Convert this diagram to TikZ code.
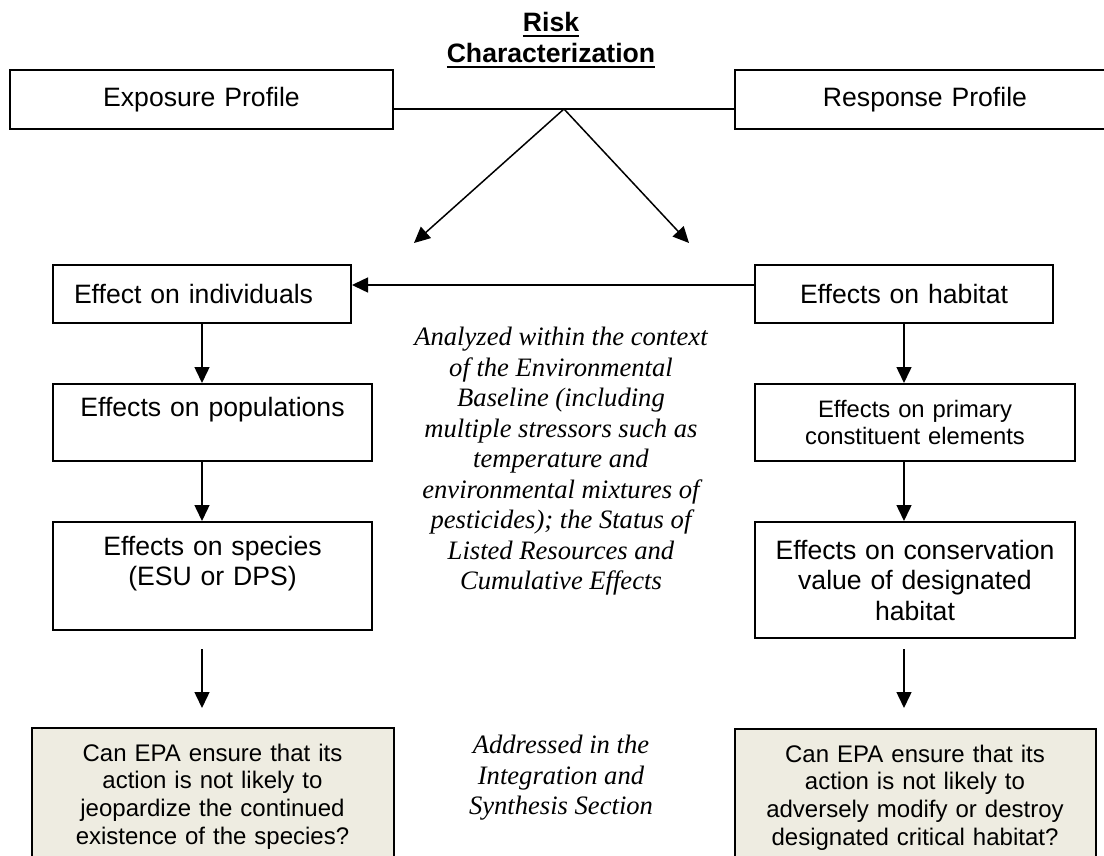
\documentclass[tikz,border=0pt]{standalone}
\usepackage{fontspec}
\setmainfont{Liberation Sans}
\newfontfamily\notefont{Liberation Serif}
\usepackage{xcolor}
\definecolor{questiongray}{HTML}{EEECE1}
\usepackage{tikz}
\usetikzlibrary{arrows.meta, positioning, calc}
\newcommand{\mainsize}{\fontsize{13.3}{15.25}\selectfont}
\newcommand{\smallbox}{\fontsize{11.9}{13.5}\selectfont}
\newcommand{\questionsize}{\fontsize{12}{13.85}\selectfont}
\newcommand{\titleline}[1]{\leavevmode\vtop{\hbox{#1}\kern1.5pt\hrule height 1pt}}

\begin{document}
\begin{tikzpicture}[node distance=29.5pt,
        box/.style={rectangle, draw=black, line width=1pt, inner ysep=0pt, inner xsep=3pt, align=center, font=\mainsize},
        profile/.style={box, minimum height=29.5pt},
        effect/.style={box, minimum height=29pt},
        topbox/.style={box, text height=16pt},
        question/.style={box, fill=questiongray, font=\questionsize, text height=16.5pt, text depth=70pt},
        note/.style={align=center, inner sep=0pt, font=\notefont\itshape\mainsize},
        line/.style={draw=black, line width=0.75pt},
        arrow/.style={line, -{Triangle[length=8pt, width=7.5pt]}}]

        \useasboundingbox (0,0) rectangle (552pt,-428pt);
        \clip (0,0) rectangle (552pt,-428pt);

        \node [font=\bfseries\mainsize, align=center, inner sep=0pt] (title) at (275.5pt,-20pt) {\titleline{Risk}\\\titleline{Characterization}};

        \node [profile, text width=185.5pt, anchor=north west] (expo) at (4.5pt,-34.5pt) {Exposure Profile};
        \node [profile, text width=184pt, right=170pt of expo] (resp) {Response Profile};

        \node [effect, text width=128pt, inner xsep=10.5pt, align=left, anchor=north west] (indiv) at (26pt,-132pt) {Effect on individuals};
        \node [effect, text width=143pt, right=201pt of indiv] (habitat) {Effects on habitat};

        \node [topbox, text width=153.5pt, text depth=22.5pt, below=of indiv.south west, anchor=north west] (popul) {Effects on populations};
        \node [topbox, text width=153.5pt, text height=16.5pt, text depth=37.5pt, below=of popul.south west, anchor=north west] (species) {Effects on species\\(ESU or DPS)};
        \node [question, text width=175pt, below=48pt of species] (jeopardy) {Can EPA ensure that its\\action is not likely to\\jeopardize the continued\\existence of the species?};

        \node [box, font=\smallbox, text width=154pt, minimum height=38.5pt, below=of habitat.south west, anchor=north west] (elements) {Effects on primary\\constituent elements};
        \node [box, text width=154pt, minimum height=58pt, below=of elements.south west, anchor=north west] (conserv) {Effects on conservation\\value of designated\\habitat};
        \node [question, text width=174.5pt, below=44.5pt of conserv] (modify) {Can EPA ensure that its\\action is not likely to\\adversely modify or destroy\\designated critical habitat?};

        \node [note] (context) at (280.5pt,-230.75pt) {Analyzed within the context\\of the Environmental\\Baseline (including\\multiple stressors such as\\temperature and\\environmental mixtures of\\pesticides); the Status of\\Listed Resources and\\Cumulative Effects};
        \node [note] (synthesis) at (280.5pt,-389pt) {Addressed in the\\Integration and\\Synthesis Section};

        \coordinate (tipl) at (207pt,-121.5pt);
        \coordinate (tipr) at (344.5pt,-121.5pt);

        \path [line] ([yshift=-4.75pt]expo.east) -- coordinate[midway] (apex) ([yshift=-4.75pt]resp.west);
        \path [arrow] (apex) -- (tipl);
        \path [arrow] (apex) -- (tipr);

        \path [arrow] ([yshift=4.5pt]habitat.west) -- ([yshift=4.5pt]indiv.east);

        \path [arrow] (indiv.south) -- (indiv.south |- popul.north);
        \path [arrow] (indiv.south |- popul.south) -- (indiv.south |- species.north);
        \path [arrow, shorten <=9pt, shorten >=9.5pt] (indiv.south |- species.south) -- (indiv.south |- jeopardy.north);

        \path [arrow] (habitat.south) -- (habitat.south |- elements.north);
        \path [arrow] (habitat.south |- elements.south) -- (habitat.south |- conserv.north);
        \path [arrow, shorten <=5pt, shorten >=10pt] (habitat.south |- conserv.south) -- (habitat.south |- modify.north);
    \end{tikzpicture}
\end{document}
